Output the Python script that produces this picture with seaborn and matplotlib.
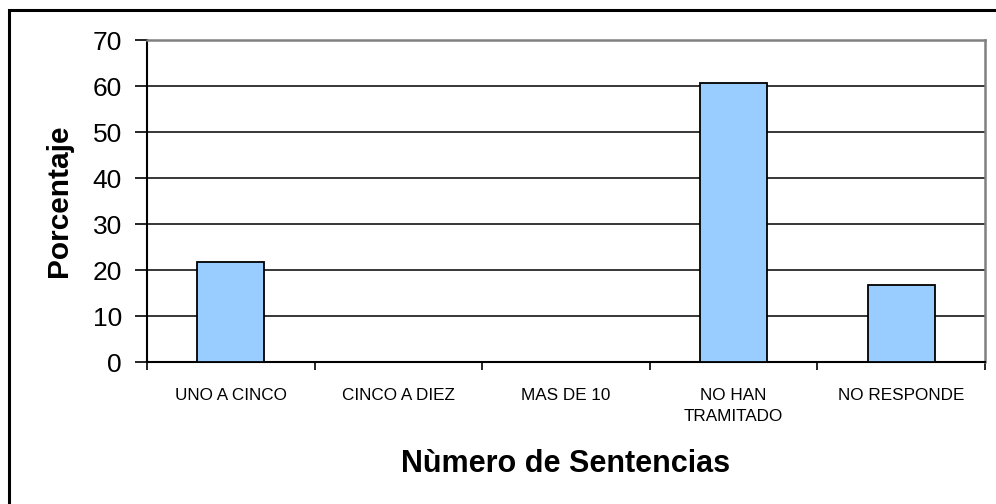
import matplotlib
matplotlib.use('Agg')
import matplotlib.pyplot as plt
import seaborn as sns
import pandas as pd
from matplotlib.patches import Rectangle
from matplotlib.ticker import FixedLocator

categorias = ['UNO A CINCO', 'CINCO A DIEZ', 'MAS DE 10', 'NO HAN\nTRAMITADO', 'NO RESPONDE']
porcentajes = [21.7, 0, 0, 60.7, 16.8]
y_ticks = [0, 10, 20, 30, 40, 50, 60, 70]

sns.set_style('white')
plt.rcParams['font.family'] = ['Liberation Sans', 'DejaVu Sans']
plt.rcParams['text.color'] = 'black'
plt.rcParams['axes.labelcolor'] = 'black'
plt.rcParams['xtick.color'] = 'black'
plt.rcParams['ytick.color'] = 'black'

dados = pd.DataFrame({'Categoria': categorias, 'Porcentaje': porcentajes})

fig = plt.figure(figsize=(9.96, 5.04), dpi=100)
ax = fig.add_axes([147 / 996, 1 - 362 / 504, (985 - 147) / 996, (362 - 40) / 504])

sns.barplot(data=dados, x='Categoria', y='Porcentaje', color='#99CCFF',
            edgecolor='black', linewidth=1.3, width=0.4, saturation=1, ax=ax, zorder=3)

ax.set_ylim(0, 70)
ax.set_xlim(-0.5, len(categorias) - 0.5)
ax.set_yticks(y_ticks)
ax.yaxis.grid(True, color='black', linewidth=1.1, zorder=0)
ax.set_axisbelow(True)

# marcas del eje x entre categorias
ax.xaxis.set_minor_locator(FixedLocator([i - 0.5 for i in range(len(categorias) + 1)]))
ax.tick_params(axis='x', which='major', length=0, pad=19, labelsize=12.3)
ax.tick_params(axis='x', which='minor', length=6, width=1.2, color='black', direction='out', bottom=True)
ax.tick_params(axis='y', length=9, width=1.2, color='black', direction='out', left=True, pad=9, labelsize=19)
for etiqueta in ax.get_xticklabels():
    etiqueta.set_linespacing(1.45)

for lado in ['left', 'bottom']:
    ax.spines[lado].set_color('black')
    ax.spines[lado].set_linewidth(1.5)
for lado in ['top', 'right']:
    ax.spines[lado].set_color('#808080')
    ax.spines[lado].set_linewidth(1.8)

ax.set_xlabel('Nùmero de Sentencias', fontsize=22, fontweight='bold', labelpad=18)
ax.set_ylabel('Porcentaje', fontsize=21.5, fontweight='bold', labelpad=14)

# borde de la figura
fig.patches.append(Rectangle((9 / 996, -0.05), 1.0, 1.05 - 10 / 504, transform=fig.transFigure,
                             fill=False, edgecolor='black', linewidth=2.2))

plt.savefig('out.png', dpi=100)
